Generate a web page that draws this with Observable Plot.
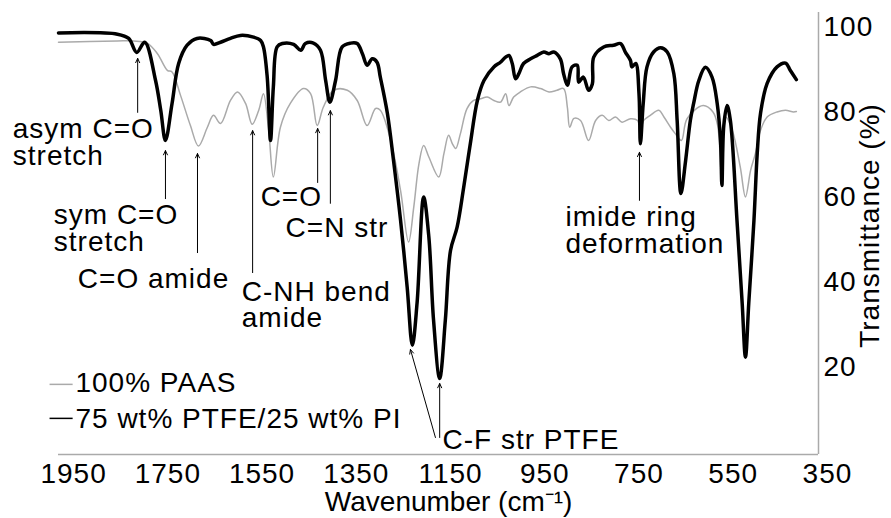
<!DOCTYPE html>
<html>
<head>
<meta charset="utf-8">
<script src="https://cdn.jsdelivr.net/npm/d3@7"></script>
<script src="https://cdn.jsdelivr.net/npm/@observablehq/plot@0.6"></script>
<style>
  html, body { margin: 0; padding: 0; background: #fff; }
  #chart svg { font-family: "Liberation Sans", Arial, sans-serif; }
</style>
</head>
<body>
<div id="chart"></div>
<script>
// ---- Data ----
const seriesNames = ["100% PAAS", "75 wt% PTFE/25 wt% PI"];
const seriesColors = ["#aaaaaa", "#000000"];

// 75 wt% PTFE / 25 wt% PI (black, thick)
const blackWn = [1982,1857,1833,1816,1799,1776,1765,1755,1741,1727,1709,1688,1659,1653,1638,1617,1596,1568,1553,1547,1539,1532,1526,1518,1507,1483,1468,1458,1441,1426,1415,1406,1394,1380,1362,1348,1337,1327,1316,1306,1299,1284,1271,1256,1242,1231,1221,1207,1196,1186,1173,1161,1150,1136,1122,1108,1093,1079,1058,1044,1033,1026,1019,1012,1005,995,980,966,952,941,931,917,910,902,892,881,878,868,857,849,846,825,804,789,779,768,765,757,750,747,741,733,719,704,690,676,669,661,651,641,634,623,609,595,584,577,574,570,563,556,542,531,524,517,506,499,492,478,457,439,429,416];
const blackT  = [98.7,98.4,97.4,94.1,96.5,87.5,80.5,73.4,82.1,91.5,95.8,97.4,96.9,96.0,96.5,97.4,98.1,97.7,96.9,95.4,88.3,73.4,86.0,95.4,96.2,96.0,94.6,96.2,96.3,94.6,87.5,82.4,87.5,95.4,96.3,96.2,93.8,91.1,92.6,91.8,88.3,79.8,68.7,54.6,38.9,25.2,35.1,60.1,50.7,31.1,17.4,31.1,47.5,53.0,62.4,72.6,82.8,87.5,90.7,91.8,93.0,93.4,91.5,87.9,89.1,91.5,92.6,93.4,94.2,93.8,94.2,92.6,89.1,86.4,90.7,91.1,87.1,88.3,85.2,86.7,93.0,95.4,95.8,96.2,94.2,92.2,90.7,91.5,84.4,72.6,82.1,90.7,94.2,95.2,94.2,89.1,78.1,60.9,68.7,78.1,82.1,87.5,90.6,88.3,82.1,73.4,62.8,76.9,81.6,78.1,54.6,35.1,22.4,35.1,54.6,70.4,79.8,86.8,90.7,91.6,89.9,87.7];

// 100% PAAS (grey, thin)
const grayWn = [1982,1857,1823,1794,1772,1751,1741,1723,1702,1685,1666,1653,1638,1617,1602,1585,1571,1557,1547,1536,1526,1511,1490,1462,1447,1433,1420,1398,1369,1348,1327,1309,1299,1277,1256,1239,1228,1217,1207,1196,1175,1164,1154,1146,1139,1129,1115,1101,1086,1072,1058,1044,1033,1026,1016,1002,980,959,941,924,910,902,897,888,874,857,842,828,814,800,786,768,753,747,740,726,708,697,683,673,660,648,614,593,583,574,566,552,535,524,513,503,492,478,457,439,422,416];
const grayT  = [96.5,96.8,96.8,96.3,93.8,89.9,89.5,84.0,76.9,72.1,76.5,79.3,77.4,82.8,84.8,82.1,77.2,80.5,84.4,75.8,64.8,76.5,82.1,85.6,84.4,76.9,81.2,85.2,85.2,82.8,76.9,80.9,80.5,73.4,61.6,49.5,57.7,67.9,72.2,69.5,64.8,70.3,74.6,72.6,71.5,75.0,80.9,82.8,83.2,83.6,82.8,82.4,84.4,81.6,83.6,84.8,86.0,85.6,84.8,85.2,85.6,81.2,76.5,78.6,78.1,73.4,78.1,79.3,78.1,78.9,77.7,78.5,78.1,75.3,78.1,79.3,80.5,78.9,76.5,75.0,73.4,78.5,81.6,80.1,76.9,64.0,78.9,75.8,67.1,60.1,66.4,70.3,75.8,78.9,80.1,80.5,80.1,80.2];

// Axes
const xTicks = [1950,1750,1550,1350,1150,950,750,550,350];
const yTicks = [20,40,60,80,100];
const xDomain = [1982, 369];
const yDomain = [-0.5, 103.5];
const xLabel = "Wavenumber (cm⁻¹)";
const yLabel = "Transmittance (%)";
const xLabelPos = [1154, -13.7];
const yLabelT = 53.4;

// Annotation labels (multi-line texts; y is the baseline of the last line)
const labelText = ["asym C=O\nstretch","sym C=O\nstretch","C=O amide","C-NH bend\namide","C=O","C=N str","imide ring\ndeformation","C-F str PTFE"];
const labelWn   = [2079,1992,1941,1593,1553,1500,906,1167];
const labelT    = [67.7,47.5,38.6,29.4,57.9,50.6,47.0,0.9];

// Annotation arrows (tail -> tip)
const arrowTailWn = [1814,1755,1687,1570,1432,1405,749,1182,1173];
const arrowTailT  = [80.0,59.7,47.0,42.3,63.5,58.6,59.3,3.5,3.5];
const arrowTipWn  = [1814,1755,1687,1570,1432,1405,749,1235,1173];
const arrowTipT   = [92.7,71.0,70.3,75.7,76.2,80.4,70.6,24.2,16.2];

// Legend (inside plot, lower left)
const legendLineWn = [2001, 1952];
const legendTextWn = 1946;
const legendLineT = [16.0, 8.0];
const legendTextT = [14.1, 5.8];

// ---- Build tables ----
const black = blackWn.map((w, i) => ({w, t: blackT[i]}));
const gray = grayWn.map((w, i) => ({w, t: grayT[i]}));
const labels = labelText.map((s, i) => ({s, w: labelWn[i], t: labelT[i]}));
const arrows = arrowTailWn.map((w, i) => ({x1: w, y1: arrowTailT[i], x2: arrowTipWn[i], y2: arrowTipT[i]}));
const legend = seriesNames.map((name, i) => ({name, color: seriesColors[i], lt: legendLineT[i], tt: legendTextT[i]}));

const FS = 28;

const chart = Plot.plot({
  width: 891,
  height: 518,
  marginLeft: 58,
  marginRight: 73,
  marginTop: 12,
  marginBottom: 64,
  style: {fontFamily: '"Liberation Sans", Arial, sans-serif', fontSize: FS + "px", background: "#fff", color: "#000", overflow: "visible", letterSpacing: "1px"},
  x: {domain: xDomain},
  y: {domain: yDomain},
  marks: [
    Plot.axisX(xTicks, {anchor: "bottom", tickSize: 0, tickPadding: 9, fontSize: FS, label: null, tickFormat: d => String(d)}),
    Plot.axisY(yTicks, {anchor: "right", tickSize: 0, tickPadding: 5, fontSize: FS, label: null, tickFormat: d => String(d)}),
    Plot.ruleY([yDomain[0]], {stroke: "#aaaaaa", strokeWidth: 1.5}),
    Plot.ruleX([xDomain[1]], {stroke: "#aaaaaa", strokeWidth: 1.5}),
    Plot.line(gray, {x: "w", y: "t", stroke: seriesColors[0], strokeWidth: 1.5, curve: "catmull-rom"}),
    Plot.line(black, {x: "w", y: "t", stroke: seriesColors[1], strokeWidth: 3.5, curve: "catmull-rom", strokeLinejoin: "round"}),
    Plot.arrow(arrows, {x1: "x1", y1: "y1", x2: "x2", y2: "y2", stroke: "#000", strokeWidth: 1, headLength: 7, headAngle: 50}),
    Plot.text(labels, {x: "w", y: "t", text: "s", textAnchor: "start", lineAnchor: "bottom", lineHeight: 0.95, fontSize: FS, fill: "#000"}),
    Plot.link(legend, {x1: legendLineWn[0], x2: legendLineWn[1], y1: "lt", y2: "lt", stroke: "color", strokeWidth: 1.5}),
    Plot.text(legend, {x: () => legendTextWn, y: "tt", text: "name", textAnchor: "start", lineAnchor: "bottom", fontSize: FS, fill: "#000"}),
    Plot.text([{s: xLabel, w: xLabelPos[0], t: xLabelPos[1]}], {x: "w", y: "t", text: "s", textAnchor: "middle", lineAnchor: "bottom", fontSize: FS, fill: "#000", style: "letter-spacing:0px"}),
    Plot.text([{s: yLabel, t: yLabelT}], {frameAnchor: "right", dx: 52, y: "t", text: "s", rotate: -90, textAnchor: "middle", lineAnchor: "middle", fontSize: FS, fill: "#000"})
  ]
});
// x-axis title matches the reference width without extra spacing
chart.querySelectorAll("text").forEach(t => { if (t.textContent === xLabel) t.style.letterSpacing = "0px"; });
document.getElementById("chart").appendChild(chart);
</script>
</body>
</html>
